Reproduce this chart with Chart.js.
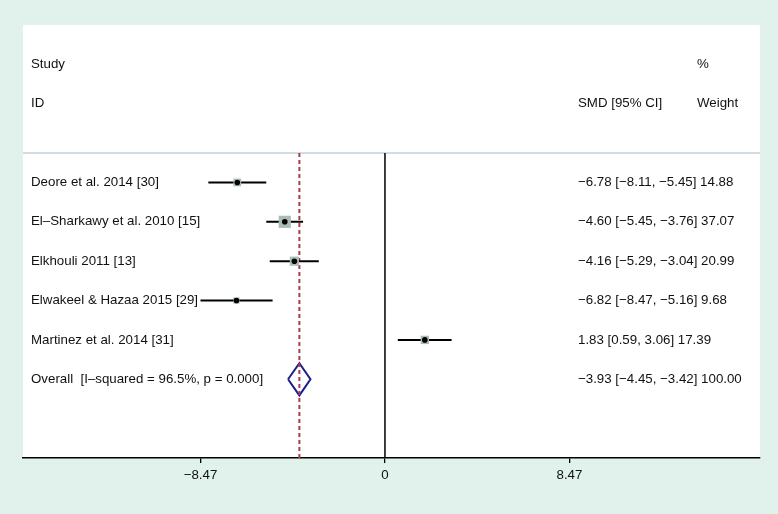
<!DOCTYPE html>
<html>
<head>
<meta charset="utf-8">
<script src="https://cdn.jsdelivr.net/npm/chart.js@4/dist/chart.umd.min.js"></script>
<style>
  html, body { margin: 0; padding: 0; background: #e1f2ec; }
  #forest { display: block; }
</style>
</head>
<body>
<canvas id="forest" width="778" height="514"></canvas>
<script>
// study data
let studies = ['Deore et al. 2014 [30]', 'El\u2013Sharkawy et al. 2010 [15]', 'Elkhouli 2011 [13]', 'Elwakeel & Hazaa 2015 [29]', 'Martinez et al. 2014 [31]']
let smd = [-6.78, -4.60, -4.16, -6.82, 1.83]
let lower = [-8.11, -5.45, -5.29, -8.47, 0.59]
let upper = [-5.45, -3.76, -3.04, -5.16, 3.06]
let weights = [14.88, 37.07, 20.99, 9.68, 17.39]

let overallLabel = 'Overall  [I\u2013squared = 96.5%, p = 0.000]'
let overallSmd = -3.93
let overallLower = -4.45
let overallUpper = -3.42
let overallWeight = 100.00

let tickValues = [-8.47, 0, 8.47]

// layout rows (top = 0)
let studyRows = [4, 5, 6, 7, 8]
let overallRow = 9
let sepRow = 3.25
let xMin = -16.62, xMax = 17.22
let yMax = 11

let font = '13.3px "Liberation Sans", Arial, Helvetica, sans-serif'

function fmt(v) {
    return (v < 0 ? '\u2212' : '') + Math.abs(v).toFixed(2)
}

let datasets = []

// confidence interval lines
studies.forEach((s, i) => {
    datasets.push({
        type: 'line',
        data: [{ x: lower[i], y: studyRows[i] }, { x: upper[i], y: studyRows[i] }],
        borderColor: '#000',
        borderWidth: 2,
        pointRadius: 0,
        order: 2
    })
})

// weight boxes (area ~ weight)
datasets.push({
    type: 'scatter',
    data: smd.map((v, i) => ({ x: v, y: studyRows[i] })),
    pointStyle: 'rect',
    pointRadius: weights.map(w => 2.0 * Math.sqrt(w) / 1.414),
    backgroundColor: '#a9bcb7',
    borderWidth: 0,
    order: 1
})

// point estimates
datasets.push({
    type: 'scatter',
    data: smd.map((v, i) => ({ x: v, y: studyRows[i] })),
    pointStyle: 'circle',
    pointRadius: 2.8,
    backgroundColor: '#000',
    borderWidth: 0,
    order: 0
})

// overall diamond
let dh = 0.41
datasets.push({
    type: 'line',
    data: [
        { x: overallLower, y: overallRow },
        { x: overallSmd, y: overallRow - dh },
        { x: overallUpper, y: overallRow },
        { x: overallSmd, y: overallRow + dh },
        { x: overallLower, y: overallRow }
    ],
    borderColor: '#1b1f8a',
    borderWidth: 2,
    pointRadius: 0,
    tension: 0,
    fill: false,
    order: 4
})

// overall dashed line
datasets.push({
    type: 'line',
    data: [{ x: overallSmd, y: sepRow }, { x: overallSmd, y: yMax }],
    borderColor: '#ad3a46',
    borderWidth: 2,
    borderDash: [4, 3],
    pointRadius: 0,
    order: 3
})

// line of no effect
datasets.push({
    type: 'line',
    data: [{ x: 0, y: sepRow }, { x: 0, y: yMax }],
    borderColor: '#000',
    borderWidth: 1.5,
    pointRadius: 0,
    order: 5
})

// header separator
datasets.push({
    type: 'line',
    data: [{ x: xMin, y: sepRow }, { x: xMax, y: sepRow }],
    borderColor: '#c3d2da',
    borderWidth: 1.5,
    pointRadius: 0,
    order: 6
})

let panelAndText = {
    id: 'panelAndText',
    beforeDraw(chart) {
        let a = chart.chartArea
        let c = chart.ctx
        c.save()
        c.fillStyle = '#fff'
        c.fillRect(a.left, a.top, a.right - a.left, a.bottom - a.top)
        c.restore()
    },
    afterDraw(chart) {
        let c = chart.ctx
        let y = chart.scales.y
        let leftX = 31, ciX = 578, wX = 697
        c.save()
        c.font = font
        c.fillStyle = '#111'
        c.textBaseline = 'middle'
        c.textAlign = 'left'
        c.fillText('Study', leftX, y.getPixelForValue(1))
        c.fillText('ID', leftX, y.getPixelForValue(2))
        c.fillText('%', wX, y.getPixelForValue(1))
        c.fillText('SMD [95% CI]', ciX, y.getPixelForValue(2))
        c.fillText('Weight', wX, y.getPixelForValue(2))
        studies.forEach((s, i) => {
            let py = y.getPixelForValue(studyRows[i])
            c.fillText(s, leftX, py)
            c.fillText(fmt(smd[i]) + ' [' + fmt(lower[i]) + ', ' + fmt(upper[i]) + '] ' + weights[i].toFixed(2), ciX, py)
        })
        let oy = y.getPixelForValue(overallRow)
        c.fillText(overallLabel, leftX, oy)
        c.fillText(fmt(overallSmd) + ' [' + fmt(overallLower) + ', ' + fmt(overallUpper) + '] ' + overallWeight.toFixed(2), ciX, oy)
        c.restore()
    }
}

let ctx = document.getElementById('forest').getContext('2d')

let forestChart = new Chart(ctx, {
    type: 'scatter',
    data: { datasets: datasets },
    options: {
        responsive: false,
        animation: false,
        layout: { padding: { left: 23, right: 18, top: 25, bottom: 0 } },
        plugins: {
            legend: { display: false },
            tooltip: { enabled: false }
        },
        scales: {
            x: {
                type: 'linear',
                min: xMin,
                max: xMax,
                afterBuildTicks: scale => {
                    scale.ticks = tickValues.map(v => ({ value: v }))
                },
                afterFit: scale => {
                    scale.height = 56
                },
                grid: {
                    display: true,
                    drawOnChartArea: false,
                    drawTicks: true,
                    tickLength: 5,
                    color: '#000',
                    lineWidth: 1.3
                },
                border: { display: true, color: '#000', width: 1.5 },
                ticks: {
                    padding: 4,
                    color: '#111',
                    font: { family: '"Liberation Sans", Arial, sans-serif', size: 13.3 },
                    maxRotation: 0,
                    autoSkip: false,
                    callback: v => v === 0 ? '0' : fmt(v)
                }
            },
            y: {
                type: 'linear',
                display: false,
                min: 0,
                max: yMax,
                reverse: true
            }
        }
    },
    plugins: [panelAndText]
})
</script>
</body>
</html>
